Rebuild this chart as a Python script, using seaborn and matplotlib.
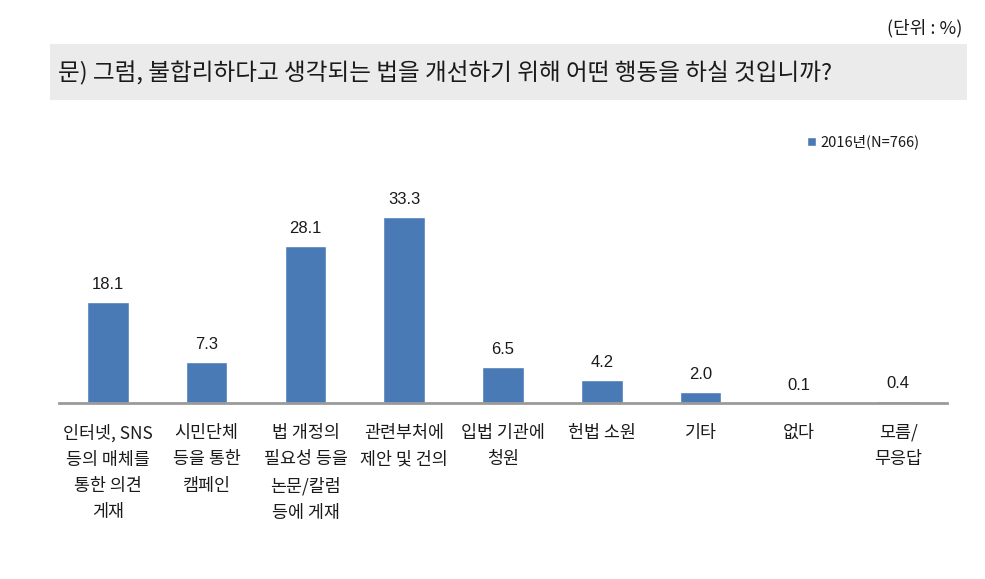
import matplotlib
matplotlib.use("Agg")
import matplotlib.pyplot as plt
import seaborn as sns
import pandas as pd
from matplotlib.patches import Rectangle

categories = [
    "인터넷, SNS\n등의 매체를\n통한 의견\n게재",
    "시민단체\n등을 통한\n캠페인",
    "법 개정의\n필요성 등을\n논문/칼럼\n등에 게재",
    "관련부처에\n제안 및 건의",
    "입법 기관에\n청원",
    "헌법 소원",
    "기타",
    "없다",
    "모름/\n무응답",
]
values = [18.1, 7.3, 28.1, 33.3, 6.5, 4.2, 2.0, 0.1, 0.4]
series_name = "2016년(N=766)"
title_text = "문) 그럼, 불합리하다고 생각되는 법을 개선하기 위해 어떤 행동을 하실 것입니까?"
unit_text = "(단위 : %)"

sns.set_theme(style="white")
plt.rcParams['font.family'] = ['Noto Sans CJK KR', 'DejaVu Sans']

W, H = 985, 579
fig = plt.figure(figsize=(W / 100, H / 100), dpi=100)

# axes in pixel geometry
left_px, right_px = 58.5, 947.5
base_px, top_px = 403, 140
ax = fig.add_axes([left_px / W, (H - base_px) / H,
                   (right_px - left_px) / W, (base_px - top_px) / H])

df = pd.DataFrame({"cat": categories, "val": values})
sns.barplot(data=df, x="cat", y="val", color="#4a7ab6", width=0.42,
            saturation=1, ax=ax, label=series_name)
ax.set_ylim(0, (base_px - top_px) / 5.59)
ax.set_xlim(-0.5, len(values) - 0.5)

for s in ["top", "right", "left"]:
    ax.spines[s].set_visible(False)
ax.spines["bottom"].set_color("#9a9a9a")
ax.spines["bottom"].set_linewidth(2)
ax.set_yticks([])
ax.set_xlabel("")
ax.set_ylabel("")
ax.tick_params(axis="x", length=0, pad=15)
ax.set_xticks(range(len(categories)))
ax.set_xticklabels(categories, fontsize=12.5, color="#1a1a1a",
                   linespacing=1.6, va="top")

for c in ax.containers:
    ax.bar_label(c, labels=[f"{v:.1f}" for v in values], padding=7,
                 fontsize=12, color="#1a1a1a",
                 family=['Liberation Sans Narrow', 'Liberation Sans', 'DejaVu Sans'])

leg = ax.legend(loc="center left", bbox_to_anchor=(800 / W, (H - 142) / H),
                bbox_transform=fig.transFigure, frameon=False,
                fontsize=10.5, handlelength=0.6, handleheight=0.6,
                handletextpad=0.3, borderpad=0)
for t in leg.get_texts():
    t.set_color("#1a1a1a")

# header grey band
fig.patches.append(Rectangle((50 / W, (H - 100) / H), (967 - 50) / W, 56 / H,
                             transform=fig.transFigure, facecolor="#ebebeb",
                             edgecolor="none", zorder=0))
fig.text(58 / W, (H - 73) / H, title_text, fontsize=17, color="#1a1a1a",
         va="center", ha="left")
fig.text(962 / W, (H - 28) / H, unit_text, fontsize=13, color="#1a1a1a",
         va="center", ha="right")

fig.savefig("out.png", dpi=100)
